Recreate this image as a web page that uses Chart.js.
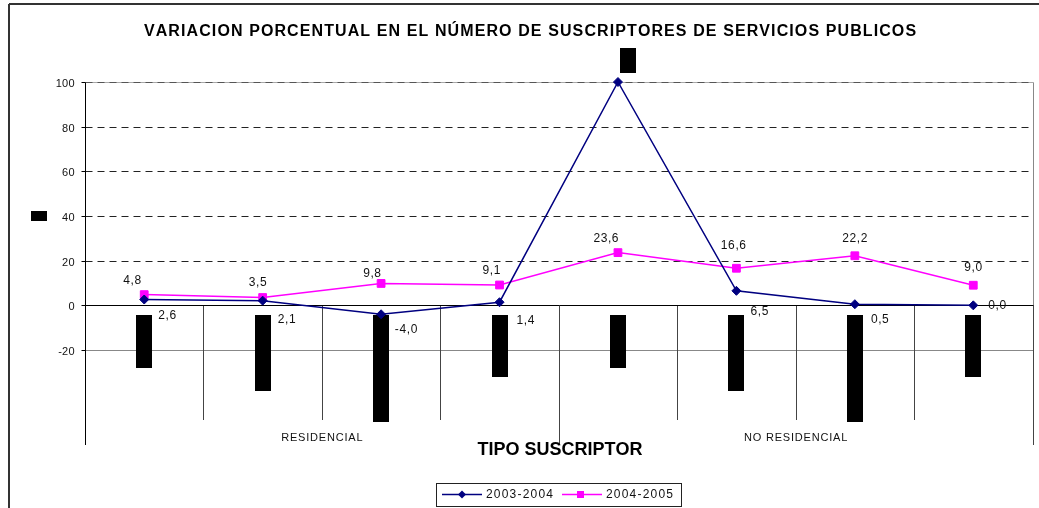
<!DOCTYPE html>
<html>
<head>
<meta charset="utf-8">
<script src="https://cdn.jsdelivr.net/npm/chart.js@4/dist/chart.umd.min.js"></script>
<style>
html,body{margin:0;padding:0;background:#fff}
</style>
</head>
<body>
<canvas id="grafico" width="1039" height="508"></canvas>
<script>
// datos
var titulo = 'VARIACION PORCENTUAL EN EL NÚMERO DE SUSCRIPTORES DE SERVICIOS PUBLICOS';
var grupos = ['RESIDENCIAL', 'NO RESIDENCIAL'];
var categorias = ['R-1', 'R-2', 'R-3', 'R-4', 'NR-1', 'NR-2', 'NR-3', 'NR-4'];
var serie0304 = [2.6, 2.1, -4.0, 1.4, 100, 6.5, 0.5, 0.0];
var serie0405 = [4.8, 3.5, 9.8, 9.1, 23.6, 16.6, 22.2, 9.0];
var etiquetas0304 = ['2,6', '2,1', '-4,0', '1,4', null, '6,5', '0,5', '0,0'];
var etiquetas0405 = ['4,8', '3,5', '9,8', '9,1', '23,6', '16,6', '22,2', '9,0'];
var yTicks = [-20, 0, 20, 40, 60, 80, 100];

// estilos (no datos)
var NAVY = '#000080', PINK = '#FF00FF';
var FONT = '"Liberation Sans", Arial, sans-serif';
var largoCaja = [53, 76, 107, 62, 53, 76, 107, 62]; // rotulos que salen como cajas negras
var off0304 = [[23,15],[24,18],[25,15],[26,18],[0,0],[23,20],[25,15],[24,0]];
var off0405 = [[-12,-15],[-5,-16],[-9,-10],[-8,-15],[-12,-15],[-3,-23],[0,-18],[0,-18]];

function txt(ctx, s, x, y, size, bold, align, ls, color) {
	ctx.save();
	ctx.font = (bold ? 'bold ' : '') + size + 'px ' + FONT;
	ctx.fillStyle = color || '#000';
	ctx.textBaseline = 'alphabetic';
	ctx.textAlign = 'left';
	var w = 0;
	for (var i = 0; i < s.length; i++) w += ctx.measureText(s[i]).width;
	w += ls * (s.length - 1);
	var px = align == 'center' ? x - w / 2 : (align == 'right' ? x - w : x);
	for (var j = 0; j < s.length; j++) {
		ctx.fillText(s[j], px, y);
		px += ctx.measureText(s[j]).width + ls;
	}
	ctx.restore();
}

function linea(ctx, x1, y1, x2, y2, color, w, dash) {
	ctx.save();
	ctx.strokeStyle = color;
	ctx.lineWidth = w;
	ctx.setLineDash(dash || []);
	ctx.beginPath();
	ctx.moveTo(x1, y1);
	ctx.lineTo(x2, y2);
	ctx.stroke();
	ctx.restore();
}

var excelPlugin = {
	id: 'excel',
	beforeDatasetsDraw: function(chart) {
		var ctx = chart.ctx, a = chart.chartArea;
		var xs = chart.scales.x, ys = chart.scales.y;
		var y0 = Math.round(ys.getPixelForValue(0)) + 0.5;
		var L = Math.round(a.left) + 0.5, R = Math.round(a.right) + 0.5;
		// lineas de division
		yTicks.forEach(function(v) {
			var y = Math.round(ys.getPixelForValue(v)) + 0.5;
			if (v == 100) {
				linea(ctx, L, y, R, y, '#a8a8a8', 1);
				linea(ctx, L, y, R, y, '#555', 1, [7, 5]);
			} else if (v == -20) {
				linea(ctx, L, y, R, y, '#888', 1);
			} else if (v != 0) {
				linea(ctx, L, y, R, y, '#222', 1, [7, 5]);
			}
			linea(ctx, L - 4, y, L, y, '#000', 1);
			txt(ctx, String(v), L - 11, y + 4, 11, false, 'right', 0.2, '#111');
		});
		var top = Math.round(ys.getPixelForValue(100)) + 0.5;
		var bot = Math.round(ys.getPixelForValue(-20)) + 0.5;
		linea(ctx, R, top, R, bot, '#888', 1);
		// marcas de categorias
		var paso = (a.right - a.left) / categorias.length;
		for (var k = 0; k <= categorias.length; k++) {
			var x = Math.round(a.left + k * paso) + 0.5;
			var largo = (k % 4 == 0) ? 445 : 420;
			linea(ctx, x, (k == 0 ? top : y0), x, largo, k == 0 ? '#000' : '#444', 1);
		}
		linea(ctx, L, y0, R, y0, '#000', 1);
		// rotulos de categoria (cajas negras)
		ctx.fillStyle = '#000';
		categorias.forEach(function(c, i) {
			var cx = Math.round(xs.getPixelForValue(i));
			ctx.fillRect(cx - 8, Math.round(y0) + 9, 16, largoCaja[i]);
		});
		// grupos
		grupos.forEach(function(g, i) {
			var cx = a.left + (i * 4 + 2) * paso;
			txt(ctx, g, cx, 441, 11, false, 'center', 0.8, '#111');
		});
	},
	afterDatasetsDraw: function(chart) {
		var ctx = chart.ctx;
		var m0 = chart.getDatasetMeta(0).data, m1 = chart.getDatasetMeta(1).data;
		m1.forEach(function(p, i) {
			txt(ctx, etiquetas0405[i], p.x + off0405[i][0], p.y + off0405[i][1] + 4, 12, false, 'center', 0.6, '#111');
		});
		m0.forEach(function(p, i) {
			if (etiquetas0304[i] === null) {
				ctx.fillStyle = '#000';
				ctx.fillRect(Math.round(p.x) + 2, Math.round(p.y) - 34, 16, 25);
				return;
			}
			txt(ctx, etiquetas0304[i], p.x + off0304[i][0], p.y + off0304[i][1] + 4, 12, false, 'center', 0.6, '#111');
		});
	},
	afterDraw: function(chart) {
		var ctx = chart.ctx;
		txt(ctx, titulo, 530, 36, 16, true, 'center', 1.1, '#000');
		txt(ctx, 'TIPO SUSCRIPTOR', 560, 455, 18, true, 'center', 0, '#000');
		// titulo eje y (caja negra)
		ctx.fillStyle = '#000';
		ctx.fillRect(31, 211, 16, 10);
		// leyenda
		ctx.save();
		ctx.strokeStyle = '#222';
		ctx.lineWidth = 1;
		ctx.strokeRect(436.5, 483.5, 245, 23);
		ctx.restore();
		linea(ctx, 442, 494.5, 482, 494.5, NAVY, 1.5);
		ctx.fillStyle = NAVY;
		ctx.beginPath();
		ctx.moveTo(462, 490.5); ctx.lineTo(466, 494.5); ctx.lineTo(462, 498.5); ctx.lineTo(458, 494.5);
		ctx.closePath(); ctx.fill();
		txt(ctx, '2003-2004', 486, 498, 12, false, 'left', 1.2, '#111');
		linea(ctx, 562, 494.5, 602, 494.5, PINK, 1.5);
		ctx.fillStyle = PINK;
		ctx.fillRect(577, 491, 7, 7);
		txt(ctx, '2004-2005', 606, 498, 12, false, 'left', 1.2, '#111');
		// marco exterior
		linea(ctx, 9, 4, 1039, 4, '#333', 2);
		linea(ctx, 9, 4, 9, 508, '#333', 2);
	}
};

var ctx = document.getElementById('grafico');
var grafico = new Chart(ctx, {
	type: 'line',
	data: {
		labels: categorias,
		datasets: [
			{
				label: '2003-2004',
				data: serie0304,
				borderColor: NAVY,
				backgroundColor: NAVY,
				borderWidth: 1.5,
				pointStyle: 'rectRot',
				pointRadius: 4.5,
				pointBorderWidth: 1,
				clip: false,
				tension: 0
			},
			{
				label: '2004-2005',
				data: serie0405,
				borderColor: PINK,
				backgroundColor: PINK,
				borderWidth: 1.5,
				pointStyle: 'rect',
				pointRadius: 5.5,
				pointBorderWidth: 1,
				clip: false,
				tension: 0
			}
		]
	},
	options: {
		responsive: false,
		animation: false,
		devicePixelRatio: 1,
		layout: { padding: { left: 85, right: 6, top: 82, bottom: 158 } },
		plugins: {
			legend: { display: false },
			title: { display: false },
			tooltip: { enabled: false }
		},
		scales: {
			x: { type: 'category', offset: true, display: false },
			y: { min: -20, max: 100, display: false }
		}
	},
	plugins: [excelPlugin]
});
</script>
</body>
</html>
